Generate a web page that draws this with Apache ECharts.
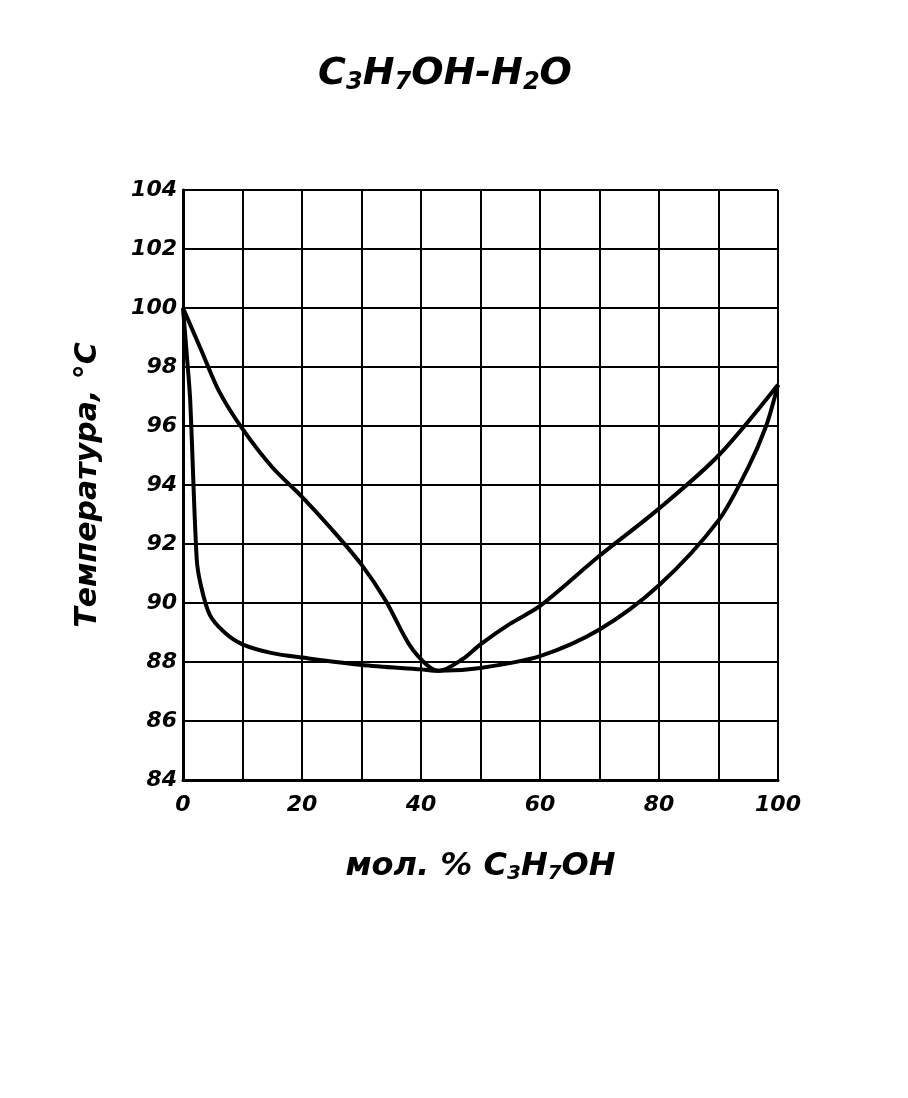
<!DOCTYPE html>
<html><head><meta charset="utf-8">
<script src="https://cdn.jsdelivr.net/npm/echarts@6/dist/echarts.min.js"></script>
<style>html,body{margin:0;background:#fff}#c{width:908px;height:1098px}</style>
</head><body><div id="c"></div>
<script>
var vaporX = [0, 3, 6, 10, 15, 20, 25, 30, 34, 38, 41, 43, 47, 50, 55, 60, 70, 80, 90, 100];
var vaporY = [100, 98.6, 97.2, 95.9, 94.6, 93.6, 92.5, 91.3, 90.1, 88.6, 87.9, 87.7, 88.1, 88.6, 89.3, 89.9, 91.6, 93.2, 95.0, 97.4];
var liquidX = [0, 0.6, 1.2, 2.3, 3, 4.5, 7, 10, 15, 20, 30, 40, 43, 50, 60, 70, 80, 90, 95, 98, 100];
var liquidY = [100, 98.5, 96.9, 91.5, 90.6, 89.6, 89.0, 88.6, 88.3, 88.15, 87.9, 87.75, 87.7, 87.8, 88.2, 89.1, 90.6, 92.8, 94.6, 96.0, 97.4];
var yTicks = [84, 86, 88, 90, 92, 94, 96, 98, 100, 102, 104];
var xTicks = [0, 20, 40, 60, 80, 100];

function pairs(xs, ys){ return xs.map(function(x,i){return [x, ys[i]];}); }
var F = 'DejaVu Sans';
var chart = echarts.init(document.getElementById('c'));
chart.setOption({
  animation:false,
  backgroundColor:'#fff',
  title:{text:'{b|C}{s|3}{b|H}{s|7}{b|OH-H}{s|2}{b|O}', left:440, top:48, textAlign:'center',
    textStyle:{rich:{b:{fontFamily:F,fontSize:38,fontStyle:'italic',fontWeight:'bold',color:'#000'},
      s:{fontFamily:F,fontSize:24,fontStyle:'italic',fontWeight:'bold',color:'#000',verticalAlign:'bottom',padding:[18,0,0,0]}}}},
  grid:{left:183, right:130, top:190, bottom:318},
  xAxis:{type:'value', min:0, max:100, interval:10,
    axisLine:{show:true,onZero:false,lineStyle:{color:'#000',width:3}}, axisTick:{show:false},
    splitLine:{show:true,lineStyle:{color:'#000',width:2}},
    axisLabel:{color:'#000',fontFamily:F,fontSize:22,fontStyle:'italic',fontWeight:'bold',margin:14,
      formatter:function(v){return xTicks.indexOf(v)>=0?String(v):'';}},
    name:'{b|мол. % C}{s|3}{b|H}{s|7}{b|OH}', nameLocation:'middle', nameGap:70,
    nameTextStyle:{rich:{b:{fontFamily:F,fontSize:32,fontStyle:'italic',fontWeight:'bold',color:'#000'},
      s:{fontFamily:F,fontSize:20,fontStyle:'italic',fontWeight:'bold',color:'#000',verticalAlign:'bottom',padding:[14,0,0,0]}}}},
  yAxis:{type:'value', min:84, max:104, interval:2,
    axisLine:{show:true,lineStyle:{color:'#000',width:3}}, axisTick:{show:false},
    splitLine:{show:true,lineStyle:{color:'#000',width:2}},
    axisLabel:{color:'#000',fontFamily:F,fontSize:22,fontStyle:'italic',fontWeight:'bold',margin:6},
    name:'Температура, °C', nameLocation:'middle', nameGap:80, nameRotate:90,
    nameTextStyle:{fontFamily:F,fontSize:30,fontStyle:'italic',fontWeight:'bold',color:'#000'}},
  series:[
    {type:'line', data:pairs(vaporX,vaporY), smooth:0.3, showSymbol:false, lineStyle:{color:'#000',width:4}},
    {type:'line', data:pairs(liquidX,liquidY), smooth:0.3, showSymbol:false, lineStyle:{color:'#000',width:4}}
  ]
});
</script></body></html>
